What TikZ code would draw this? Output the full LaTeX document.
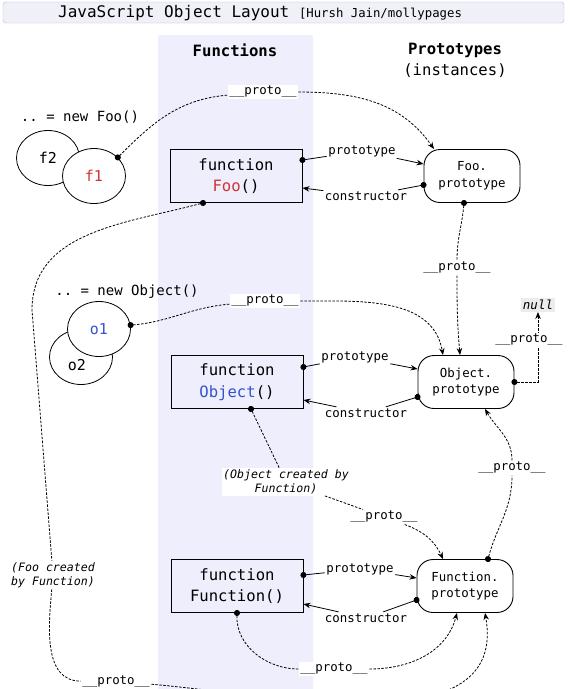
\documentclass[tikz,border=0pt]{standalone}
\usepackage{fontspec}
\setmainfont{DejaVu Sans}
\setmonofont{DejaVu Sans Mono}
\usetikzlibrary{arrows.meta}
\usetikzlibrary{shapes.geometric}

\definecolor{colbg}{RGB}{238,238,252}
\definecolor{titlebg}{RGB}{240,240,249}
\definecolor{titleedge}{RGB}{186,186,204}
\definecolor{fred}{RGB}{206,52,52}
\definecolor{oblue}{RGB}{52,82,204}
\definecolor{nullbg}{RGB}{236,236,236}
\newcommand{\setfs}[2]{\fontsize{#1}{#2}\selectfont}

\begin{document}
\begin{tikzpicture}[x=1pt,y=-1pt,font=\ttfamily,
	fnbox/.style={draw,line width=0.9pt,minimum width=132pt,minimum height=53pt,align=center,font=\ttfamily\setfs{15.6}{21.5}},
	protobox/.style={draw,line width=0.9pt,rounded corners=16pt,minimum width=96pt,minimum height=53pt,align=center,font=\ttfamily\setfs{12.4}{16.5}},
	obj/.style={draw,ellipse,line width=0.8pt,fill=white,minimum width=63pt,minimum height=55pt,font=\ttfamily\setfs{15}{18}},
	lbl/.style={font=\ttfamily\setfs{12.4}{15},inner sep=1.5pt},
	wlbl/.style={lbl,fill=white},
	note/.style={wlbl,align=center,font=\ttfamily\itshape\setfs{11.6}{14}},
	link/.style={line width=0.8pt},
	dotline/.style={link,{Circle[length=6pt,sep=-3pt]}-},
	arrline/.style={link,-{Stealth[length=7pt,width=5.5pt]}},
	dotarr/.style={link,{Circle[length=6pt,sep=-3pt]}-{Stealth[length=7pt,width=5.5pt]}},
	protodash/.style={dash pattern=on 2.5pt off 1.5pt}]
	\useasboundingbox (0,0) rectangle (570,689);
	\clip (0,0) rectangle (570,689);
	\draw[titleedge,fill=titlebg,rounded corners=3pt] (3,2) rectangle (564,23);
	\node[anchor=west,inner sep=0] (title) at (58,13) {\setfs{16}{18}JavaScript Object Layout \setfs{12.3}{14}[Hursh Jain/mollypages};
	\fill[colbg,rounded corners=2pt] (158,35) rectangle (313,700);
	\node[font=\ttfamily\bfseries\setfs{15.6}{18}] (hfun) at (235,50) {Functions};
	\node[font=\ttfamily\bfseries\setfs{15.6}{18}] (hproto) at (455,50) {Prototypes};
	\node[font=\ttfamily\setfs{15.6}{18}] (hinst) at (455,71) {(instances)};

	\node[font=\ttfamily\setfs{14}{16}] (newfoo) at (80,117) {.. = new Foo()};
	\node[obj] (f2) at (48,158) {f2};
	\node[obj,text=fred] (f1) at (94,176) {f1};
	\node[font=\ttfamily\setfs{14}{16}] (newobj) at (127,292) {.. = new Object()};
	\node[obj] (o2) at (81,357) {};
	\node[font=\ttfamily\setfs{15}{18}] (o2txt) at (77,365) {o2};
	\node[obj,text=oblue] (o1) at (99,329) {o1};

	\node[fnbox] (fnfoo) at (236,176) {function\\{\color{fred}Foo}()};
	\node[protobox] (pfoo) at (472,176) {Foo.\\prototype};
	\node[fnbox] (fnobj) at (237,382) {function\\{\color{oblue}Object}()};
	\node[protobox] (pobj) at (466,382) {Object.\\prototype};
	\node[fnbox] (fnfun) at (237,586) {function\\Function()};
	\node[protobox] (pfun) at (465,586) {Function.\\prototype};
	\node[fill=nullbg,inner sep=2pt,font=\ttfamily\itshape\setfs{12.5}{14}] (nul) at (538,305) {null};

	\node[lbl] (fooproto) at (362,151) {prototype};
	\node[lbl] (fooctor) at (366,196) {constructor};
	\node[lbl] (objproto) at (355,357) {prototype};
	\node[lbl] (objctor) at (366,413) {constructor};
	\node[lbl] (funproto) at (360,569) {prototype};
	\node[lbl] (functor) at (366,618) {constructor};
	\draw[dotline] ([yshift=16pt]fnfoo.east) -- (fooproto);
	\draw[arrline] (fooproto) -- ([yshift=12pt]pfoo.west);
	\draw[dotline] ([yshift=-9pt]pfoo.west) -- (fooctor);
	\draw[arrline] (fooctor) -- ([yshift=-12pt]fnfoo.east);
	\draw[dotline] ([yshift=15pt]fnobj.east) -- (objproto);
	\draw[arrline] (objproto) -- ([yshift=13pt]pobj.west);
	\draw[dotline] ([yshift=-15pt]pobj.west) -- (objctor);
	\draw[arrline] (objctor) -- ([yshift=-18pt]fnobj.east);
	\draw[dotline] ([yshift=11pt]fnfun.east) -- (funproto);
	\draw[arrline] (funproto) -- ([yshift=8pt]pfun.west);
	\draw[dotline] ([yshift=-14pt]pfun.west) -- (functor);
	\draw[arrline] (functor) -- ([yshift=-18pt]fnfun.east);

	\node[wlbl] (ptop) at (263,92) {\_\_proto\_\_};
	\node[wlbl] (pfoomid) at (457,268) {\_\_proto\_\_};
	\node[wlbl] (pobjtop) at (265,301) {\_\_proto\_\_};
	\node[note] (objcr) at (286,482) {(Object created by\\Function)};
	\node[wlbl] (pfuntop) at (384,517) {\_\_proto\_\_};
	\node[wlbl] (pobjbot) at (512,468) {\_\_proto\_\_};
	\node[wlbl] (pfunbot) at (334,669) {\_\_proto\_\_};
	\node[note,align=left] (foocr) at (53,575) {(Foo created\\by Function)};
	\node[wlbl,anchor=base] (pbot) at (116,684) {\_\_proto\_\_};
	\coordinate (bend) at (32,310);

	\draw[dotline,protodash] (f1.38) to[out=45,in=185] (ptop);
	\draw[arrline,protodash] (ptop) to[out=0,in=125] ([xshift=-38pt]pfoo.north);
	\draw[dotline,protodash] ([xshift=-33pt]fnfoo.south) to[out=195,in=90] (bend) -- (foocr);
	\draw[link,protodash] (foocr) to[out=265,in=180] (pbot);
	\draw[arrline,protodash] (pbot) to[out=-5,in=280] ([xshift=20pt]pfun.south);
	\draw[dotline,protodash] ([xshift=-8pt]pfoo.south) to[out=265,in=90] (pfoomid);
	\draw[arrline,protodash] (pfoomid) to[out=270,in=95] ([xshift=-6pt]pobj.north);
	\draw[dotline,protodash] (o1.7) to[out=5,in=185] (pobjtop);
	\draw[arrline,protodash] (pobjtop) to[out=0,in=100] ([xshift=-23pt]pobj.north);
	\draw[dotarr,protodash] (pobj.east) -| node[wlbl,pos=0.8,xshift=-9pt] (nulproto) {\_\_proto\_\_} (nul);
	\draw[dotline,protodash] ([xshift=14pt]fnobj.south) -- (objcr);
	\draw[link,protodash] (objcr) -- (pfuntop);
	\draw[arrline,protodash] (pfuntop) to[out=-20,in=115] ([xshift=-22pt]pfun.north);
	\draw[dotline,protodash] ([xshift=23pt]pfun.north) to[out=75,in=270] (pobjbot);
	\draw[arrline,protodash] (pobjbot) to[out=90,in=300] ([xshift=19pt]pobj.south);
	\draw[dotline,protodash] (fnfun.south) to[out=268,in=180] (pfunbot);
	\draw[arrline,protodash] (pfunbot) to[out=0,in=255] ([xshift=-8pt]pfun.south);
\end{tikzpicture}
\end{document}
